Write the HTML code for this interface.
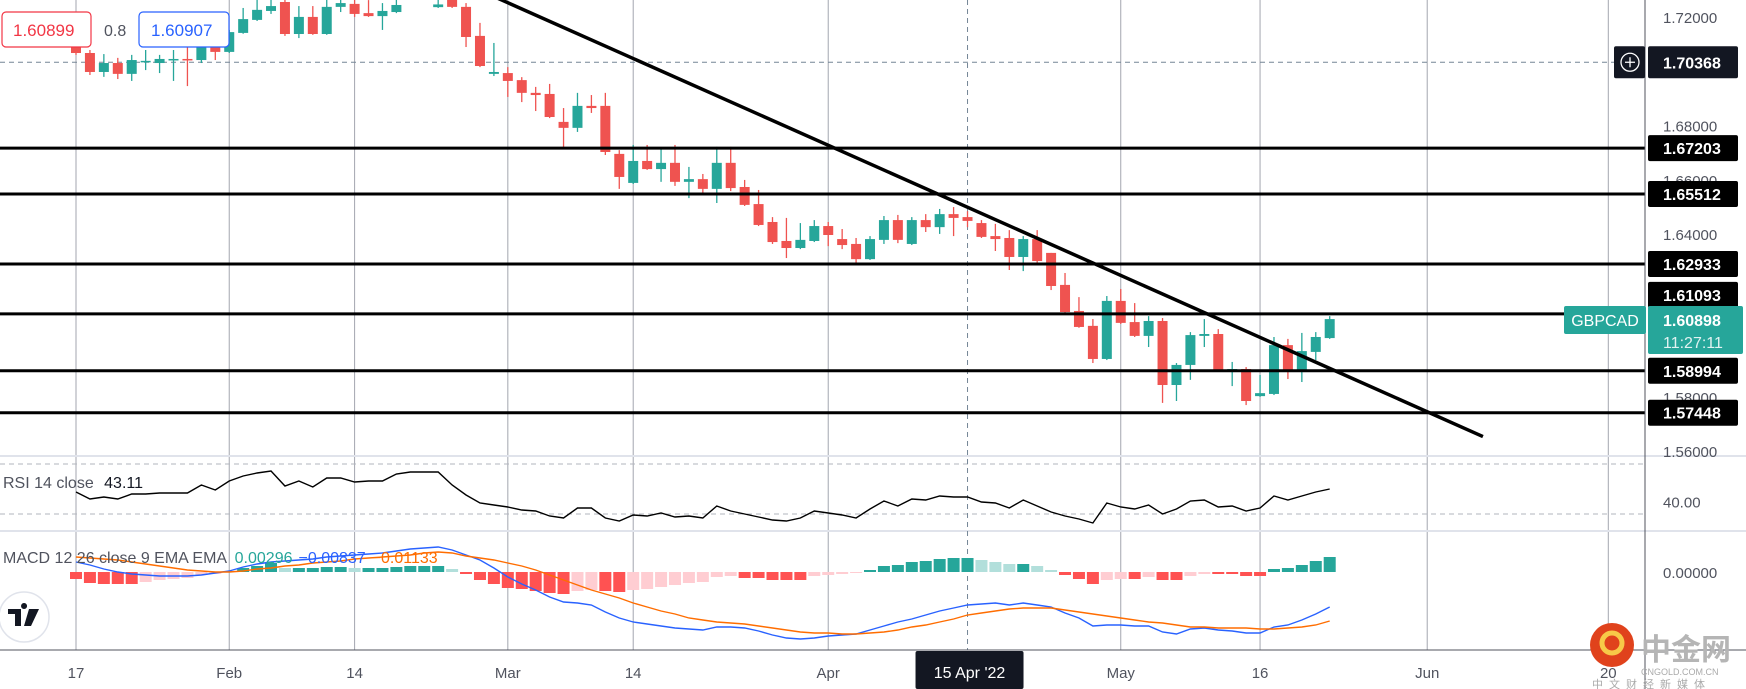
<!DOCTYPE html>
<html><head><meta charset="utf-8"><style>
html,body{margin:0;padding:0;background:#fff;}
svg{display:block;font-family:"Liberation Sans","Noto Sans CJK SC",sans-serif;}
</style></head><body>
<svg id="chart" width="1746" height="689" viewBox="0 0 1746 689" xmlns="http://www.w3.org/2000/svg">
<rect x="0" y="0" width="1746" height="689" fill="#ffffff"/>
<g id="grid"></g>
<g id="main"></g>
<g id="rsi"></g>
<g id="macd"></g>
<g id="axes"></g>
<g id="overlay"></g>
</svg>
<script>
const opens=[1.7093,1.7071,1.7001,1.7034,1.6994,1.7038,1.7034,1.7047,1.7049,1.7045,
1.7093,1.7075,1.7145,1.7193,1.7226,1.7259,1.7141,1.7204,1.7141,1.7241,
1.7252,1.7218,1.7207,1.7222,1.7280,1.7300,1.7240,1.7290,1.7241,1.7134,
1.6994,1.6997,1.6971,1.6924,1.6920,1.6817,1.6795,1.6876,1.6876,1.6699,
1.6592,1.6673,1.6643,1.6666,1.6596,1.6606,1.6570,1.6666,1.6577,1.6514,
1.6448,1.6378,1.6352,1.6378,1.6433,1.6385,1.6367,1.6311,1.6382,1.6455,
1.6367,1.6455,1.6429,1.6477,1.6466,1.6444,1.6396,1.6389,1.6319,1.6385,
1.6334,1.6216,1.6120,1.6065,1.5943,1.6157,1.6079,1.6028,1.6083,1.5847,
1.5921,1.6028,1.6035,1.5902,1.5906,1.5806,1.5814,1.5994,1.5902,1.5969,1.6020];
const highs=[1.7100,1.7082,1.7067,1.7053,1.7064,1.7082,1.7064,1.7082,1.7093,1.7119,
1.7104,1.7156,1.7237,1.7270,1.7290,1.7280,1.7244,1.7244,1.7290,1.7296,
1.7280,1.7266,1.7255,1.7290,1.7320,1.7330,1.7290,1.7310,1.7255,1.7182,
1.7108,1.7019,1.6982,1.6946,1.6957,1.6868,1.6924,1.6916,1.6924,1.6713,
1.6732,1.6732,1.6721,1.6732,1.6651,1.6625,1.6725,1.6725,1.6603,1.6566,
1.6466,1.6463,1.6444,1.6455,1.6448,1.6422,1.6389,1.6396,1.6470,1.6474,
1.6466,1.6477,1.6496,1.6503,1.6488,1.6455,1.6441,1.6418,1.6396,1.6418,
1.6334,1.6260,1.6171,1.6090,1.6175,1.6201,1.6149,1.6101,1.6094,1.5928,
1.6042,1.6090,1.6053,1.5932,1.5913,1.5884,1.6024,1.6017,1.6039,1.6042,1.6101];
const lows=[1.7064,1.6990,1.6983,1.6975,1.6968,1.7008,1.6997,1.6968,1.6949,1.7034,
1.7045,1.7071,1.7142,1.7189,1.7215,1.7134,1.7126,1.7138,1.7138,1.7222,
1.7204,1.7204,1.7156,1.7218,1.7270,1.7275,1.7237,1.7237,1.7093,1.7019,
1.6986,1.6909,1.6890,1.6857,1.6831,1.6724,1.6780,1.6850,1.6695,1.6570,
1.6588,1.6640,1.6596,1.6581,1.6536,1.6555,1.6518,1.6562,1.6507,1.6433,
1.6367,1.6315,1.6348,1.6374,1.6359,1.6348,1.6297,1.6308,1.6367,1.6370,
1.6363,1.6411,1.6404,1.6396,1.6429,1.6389,1.6341,1.6271,1.6267,1.6297,
1.6197,1.6113,1.6058,1.5928,1.5939,1.6072,1.6024,1.5987,1.5781,1.5788,
1.5866,1.5987,1.5899,1.5843,1.5773,1.5803,1.5810,1.5869,1.5858,1.5939,1.6017];
const closes=[1.7071,1.7001,1.7034,1.6994,1.7045,1.7042,1.7049,1.7049,1.7047,1.7108,
1.7075,1.7148,1.7196,1.7230,1.7244,1.7141,1.7204,1.7141,1.7241,1.7255,
1.7215,1.7207,1.7226,1.7248,1.7300,1.7285,1.7250,1.7241,1.7130,1.7023,
1.7001,1.6968,1.6924,1.6916,1.6835,1.6795,1.6876,1.6868,1.6706,1.6614,
1.6673,1.6643,1.6666,1.6596,1.6606,1.6570,1.6666,1.6573,1.6511,1.6437,
1.6374,1.6352,1.6382,1.6433,1.6400,1.6363,1.6311,1.6385,1.6455,1.6382,
1.6455,1.6429,1.6477,1.6463,1.6452,1.6393,1.6385,1.6319,1.6385,1.6304,
1.6212,1.6116,1.6061,1.5943,1.6157,1.6076,1.6028,1.6083,1.5847,1.5921,
1.6031,1.6035,1.5902,1.5906,1.5788,1.5817,1.5994,1.5902,1.5972,1.6024,1.6090];
const rsiVals=[47.6,42,43.6,42,46,46,46.8,46.8,46.8,53.2,
49.2,56.4,60.4,62.8,64.4,52.4,56.4,51.6,58.8,58.8,
55.6,56.4,56.4,62,63.6,63.6,63.6,53.2,45.2,38.8,
37.2,35.6,33.2,32.4,28.4,26.8,34.8,34.8,26.8,24.4,
29.2,28.4,30.8,27.6,28.4,26.8,36.4,32.4,30,27.6,
25.2,24.4,26.8,32.4,30.8,29.2,26.8,34,40.4,36.4,
42,41.2,44.4,43.6,43.6,39.6,38.8,34.8,41.2,36.4,
31.6,28.4,26,22.8,38.8,35.6,34,37.2,30,34,
40.4,41.2,35.6,36.4,32.4,34.8,44.4,41.2,44.4,47.6,50];
// MACD values in units of 1e-3
const macdVals=[2.5,1.75,0.75,0,-0.5,-0.75,-1,-1,-1,-0.75,
-0.25,0.25,1.25,2,2.5,2.75,3,3.25,3.75,4,
4.25,4.5,4.75,5.25,5.75,6,6.25,5.5,4.25,3,
1,-1.25,-3,-4.5,-6.25,-7.5,-7.75,-8.25,-10,-11.5,
-12.5,-13,-13.5,-14,-14.25,-14.5,-13.75,-13.75,-14,-14.75,
-15.75,-16.5,-16.75,-16.5,-16,-15.75,-15.5,-14.5,-13.5,-12.5,
-11.75,-10.75,-9.75,-9,-8.25,-8,-7.75,-8.25,-7.75,-8.25,
-8.75,-10.25,-11.5,-13.5,-13.25,-13.25,-13.5,-13.5,-15,-15.5,
-14.25,-14,-14.5,-14.75,-15.25,-15.25,-13.75,-13.25,-12,-10.5,-8.75];
const signalVals=[3.75,3.5,3.25,3,2.5,2,1.5,1,0.5,0.25,
0,0,0.25,0.75,1,1.5,1.75,2.25,2.5,2.75,
3.25,3.5,3.75,4,4.25,4.75,5,4.75,4,3.5,
3,2.25,1.5,0.5,-0.75,-2,-3.25,-4.5,-5.5,-6.5,
-7.75,-8.75,-9.75,-10.5,-11.5,-12,-12.5,-12.75,-13,-13.5,
-14,-14.5,-15,-15.25,-15.25,-15.5,-15.5,-15.25,-15,-14.5,
-13.75,-13.25,-12.5,-11.75,-10.75,-10.25,-9.75,-9.25,-9,-9,
-9,-9.5,-10,-10.5,-11,-11.5,-12,-12.5,-12.75,-13.25,
-13.75,-13.75,-14,-14,-14,-14.25,-14.25,-14,-13.75,-13.25,-12.25];
const histVals=[-1.75,-2.75,-3,-3,-3,-2.5,-2,-1.75,-1.5,-0.75,
-0.5,0.25,1,1.5,2.25,1,1,1,1.25,1.25,
1,1,1,1.25,1.5,1.5,1.5,0.75,-0.5,-2,
-3,-4,-4.25,-4.75,-5.25,-5.5,-4.75,-4.5,-4.75,-5,
-4.5,-4.25,-3.75,-3.25,-2.75,-2.5,-1.25,-1,-1.5,-1.5,
-2,-2,-2,-1,-0.75,-0.5,-0.25,0.5,1.5,1.75,
2.5,2.75,3.25,3.5,3.5,3,2.5,2,2,1.5,
0.5,-0.75,-1.75,-3,-2,-1.75,-1.75,-1.25,-2,-2,
-1,-0.5,-0.5,-0.5,-1,-1,0.75,1,1.75,2.75,3.75];
const levelPrices=[1.67203,1.65512,1.62933,1.61093,1.58994,1.57448];
const levelLabelShift=[0,0,0,-19,0,0];
const priceTicks=["1.72000","1.68000","1.66000","1.64000","1.58000","1.56000"];
const timeTickIdx=[0,11,20,31,40,54,75,85,97,110];
const timeTickLabels=["17","Feb","14","Mar","14","Apr","May","16","Jun","20"];
const trendStart=[28.3,1.7318];
const trendEnd=[101,1.5657];

const NS="http://www.w3.org/2000/svg";
const X0=76,DX=13.93,PLOT_R=1645;
const xOf=i=>X0+i*DX;
const yP=p=>18+(1.72-p)*2712.5;
const yR=v=>464+(70-v)*1.25;
const yM=v=>572-v*4;
function el(tag,attrs,parent,text){const e=document.createElementNS(NS,tag);for(const k in attrs)e.setAttribute(k,attrs[k]);if(text!==undefined)e.textContent=text;parent.appendChild(e);return e;}
const G=id=>document.getElementById(id);
const grid=G('grid'),main=G('main'),rsi=G('rsi'),macd=G('macd'),axes=G('axes'),ov=G('overlay');

const defs=el('defs',{},G('chart'));
const cp=el('clipPath',{id:'clipMain'},defs);el('rect',{x:0,y:0,width:PLOT_R,height:456},cp);
const cpM=el('clipPath',{id:'clipMacd'},defs);el('rect',{x:0,y:532,width:PLOT_R,height:117},cpM);
main.setAttribute('clip-path','url(#clipMain)');

timeTickIdx.forEach((ti,k)=>{const l=el('line',{x1:xOf(ti),x2:xOf(ti),y1:0,y2:650,stroke:'#a3a6af','stroke-width':1},grid);

});
[456,531].forEach((y,k)=>{const l=el('rect',{x:0,y:y-1,width:1746,height:2,fill:'#e0e3eb'},grid);

});
[464,514].forEach((y,k)=>{const l=el('line',{x1:0,x2:PLOT_R,y1:y,y2:y,stroke:'#b2b5be','stroke-dasharray':'5,4'},grid);

});
const chx=xOf(64);
const cv=el('line',{x1:chx,x2:chx,y1:0,y2:650,stroke:'#758696','stroke-dasharray':'5,4'},grid);


const ch=el('line',{x1:0,x2:PLOT_R,y1:yP(1.70368),y2:yP(1.70368),stroke:'#758696','stroke-dasharray':'5,4'},grid);



for(let i=0;i<opens.length;i++){
 const up=closes[i]>=opens[i];const col=up?'#26a69a':'#ef5350';
 const g=el('g',{},main);
 
 
 const x=xOf(i);
 el('line',{x1:x,x2:x,y1:yP(highs[i]),y2:yP(lows[i]),stroke:col,'stroke-width':1.3},g);
 const t=yP(Math.max(opens[i],closes[i])),b=yP(Math.min(opens[i],closes[i]));
 el('rect',{x:x-5,y:t,width:10,height:Math.max(1.5,b-t),fill:col},g);
}
levelPrices.forEach((p,k)=>{const y=yP(p);
 const l=el('line',{x1:0,x2:(k===3?1564:PLOT_R),y1:y,y2:y,stroke:'#000','stroke-width':3},main);
 
 
});
const tl=el('line',{x1:xOf(trendStart[0]),y1:yP(trendStart[1]),x2:xOf(trendEnd[0]),y2:yP(trendEnd[1]),stroke:'#000','stroke-width':3.5},G('chart'));


G('chart').insertBefore(tl,axes);

const rp=rsiVals.map((v,i)=>xOf(i)+','+yR(v)).join(' ');
const rl=el('polyline',{points:rp,fill:'none',stroke:'#000','stroke-width':1.4},rsi);



macd.setAttribute('clip-path','url(#clipMacd)');
histVals.forEach((v,i)=>{const prev=i?histVals[i-1]:v;let c;
 if(v>=0)c=(v>=prev)?'#26a69a':'#b2dfdb';else c=(v<=prev)?'#ff5252':'#ffcdd2';
 const y0=yM(0),y1=yM(v);
 const r=el('rect',{x:xOf(i)-6,y:Math.min(y0,y1),width:12,height:Math.max(1,Math.abs(y1-y0)),fill:c},macd);
 
 
});
const ml=el('polyline',{points:macdVals.map((v,i)=>xOf(i)+','+yM(v)).join(' '),fill:'none',stroke:'#2962ff','stroke-width':1.4},macd);


const sl=el('polyline',{points:signalVals.map((v,i)=>xOf(i)+','+yM(v)).join(' '),fill:'none',stroke:'#ff6d00','stroke-width':1.4},macd);



const ax=el('line',{x1:PLOT_R,x2:PLOT_R,y1:0,y2:689,stroke:'#50535e','stroke-width':1},axes);


const bx=el('line',{x1:0,x2:1746,y1:650,y2:650,stroke:'#50535e','stroke-width':1},axes);


priceTicks.forEach(t=>{const tx=el('text',{x:1663,y:yP(parseFloat(t))+5,'font-size':15,fill:'#50535e'},axes,t);
 
 });
const r40=el('text',{x:1663,y:yR(40)+6,'font-size':15,fill:'#50535e'},axes,'40.00');


const m0=el('text',{x:1663,y:yM(0)+6,'font-size':15,fill:'#50535e'},axes,'0.00000');


timeTickIdx.forEach((ti,k)=>{const tx=el('text',{x:xOf(ti),y:678,'font-size':15,fill:'#50535e','text-anchor':'middle'},axes,timeTickLabels[k]);
 
 });
const ctb=el('g',{},ov);


el('rect',{x:chx-52,y:651,width:108,height:38,rx:2,fill:'#131722'},ctb);
el('text',{x:chx+2,y:678,'font-size':16,fill:'#fff','text-anchor':'middle'},ctb,"15 Apr '22");

levelPrices.forEach((p,k)=>{const y=yP(p)+levelLabelShift[k];
 const g=el('g',{},ov);
 
 
 el('rect',{x:1648,y:y-13,width:90,height:26,rx:2,fill:'#000'},g);
 el('text',{x:1663,y:y+6,'font-size':16,'font-weight':'bold',fill:'#fff'},g,p.toFixed(5));
});
const cpl=el('g',{},ov);


const cyy=yP(1.70368);
el('rect',{x:1614,y:cyy-16,width:31,height:32,rx:2,fill:'#131722'},cpl);
el('circle',{cx:1630,cy:cyy,r:9,fill:'none',stroke:'#fff','stroke-width':1.3},cpl);
el('path',{d:`M1625 ${cyy}H1635M1630 ${cyy-5}V${cyy+5}`,stroke:'#fff','stroke-width':1.3},cpl);
el('rect',{x:1648,y:cyy-16,width:90,height:32,rx:2,fill:'#131722'},cpl);
el('text',{x:1663,y:cyy+6,'font-size':16,'font-weight':'bold',fill:'#fff'},cpl,'1.70368');
const sym=el('g',{},ov);


el('rect',{x:1564,y:306,width:82,height:28,rx:2,fill:'#26a69a'},sym);
el('text',{x:1605,y:326,'font-size':16,fill:'#fff','text-anchor':'middle'},sym,'GBPCAD');
el('rect',{x:1648,y:306,width:95,height:48,rx:2,fill:'#26a69a'},sym);
el('text',{x:1663,y:326,'font-size':16,'font-weight':'bold',fill:'#fff'},sym,'1.60898');
el('text',{x:1663,y:348,'font-size':16,fill:'#e0f2f1'},sym,'11:27:11');

const lg=el('g',{},ov);


el('rect',{x:2,y:12,width:89,height:35,rx:4,fill:'#fff',stroke:'#f23645','stroke-width':1.2},lg);
el('text',{x:13,y:36,'font-size':17,fill:'#f23645'},lg,'1.60899');
el('text',{x:104,y:36,'font-size':16,fill:'#50535e'},lg,'0.8');
el('rect',{x:139,y:12,width:90,height:35,rx:4,fill:'#fff',stroke:'#2962ff','stroke-width':1.2},lg);
el('text',{x:151,y:36,'font-size':17,fill:'#2962ff'},lg,'1.60907');

const rt=el('text',{x:3,y:488,'font-size':16,fill:'#50535e'},ov);


rt.innerHTML='RSI 14 close <tspan fill="#131722" dx="6">43.11</tspan>';
const mt=el('text',{x:3,y:563,'font-size':16,fill:'#50535e'},ov);


mt.innerHTML='MACD 12 26 close 9 EMA EMA <tspan fill="#26a69a" dx="4">0.00296</tspan><tspan fill="#2962ff" dx="6">−0.00837</tspan><tspan fill="#ff6d00" dx="6">−0.01133</tspan>';

const tv=el('g',{},ov);


el('circle',{cx:24,cy:617,r:25,fill:'#fff',stroke:'#e0e3eb','stroke-width':1.5},tv);
el('path',{d:'M8 609H21V626H15V614H8Z M24 609A3 3 0 1 1 24.1 609Z M29 609H39L31 626H24Z',fill:'#131722'},tv);

const wm=el('g',{},ov);


el('circle',{cx:1612,cy:645,r:22,fill:'#e0421c'},wm);
el('circle',{cx:1612,cy:643,r:10,fill:'none',stroke:'#f7c948','stroke-width':5},wm);
el('text',{x:1641,y:660,'font-size':30,'font-weight':'bold',fill:'#b5b5b5'},wm,'中金网');
el('text',{x:1641,y:675,'font-size':9,fill:'#aaa'},wm,'CNGOLD.COM.CN');
el('text',{x:1592,y:688,'font-size':11,fill:'#aaa','letter-spacing':'6'},wm,'中文财经新媒体');
</script>
</body></html>
